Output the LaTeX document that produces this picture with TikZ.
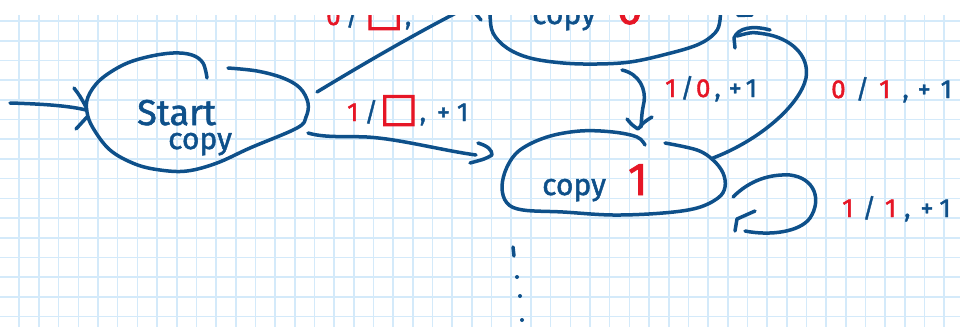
\documentclass[tikz,border=0pt]{standalone}
\usepackage{fontspec}
\setmainfont{Fira Sans}[Numbers=Lining,FakeBold=1.5]
\newfontfamily\symfont{DejaVu Sans}[FakeBold=2.5]
\definecolor{inkblue}{RGB}{14,80,138}
\definecolor{penred}{RGB}{230,22,38}
\definecolor{gridblue}{RGB}{212,234,250}
\newcommand{\rd}[1]{\textcolor{penred}{#1}}
\newcommand{\bx}{{\symfont\fontsize{40}{40}\selectfont □}}
\newcommand{\bigdigit}[1]{\rd{\fontsize{46}{46}\selectfont #1}}
\begin{document}
\begin{tikzpicture}[x=1pt,y=-1pt,
  ink/.style={draw=inkblue,line width=3.5pt,line cap=round,line join=round},
  gridline/.style={draw=gridblue,line width=1.6pt},
  statetext/.style={inkblue,inner sep=0pt,anchor=base west,font=\fontsize{30}{24}\selectfont},
  lbl/.style={inkblue,inner sep=0pt,anchor=base west,font=\fontsize{26}{26}\selectfont}]
\useasboundingbox (0,0) rectangle (960,327);
\fill[white] (0,0) rectangle (960,327);
% squared paper
\foreach \k in {0,...,49} \draw[gridline] ({19.68*\k-0.4},15) -- ({19.68*\k-0.4},327);
\foreach \k in {0,...,15} \draw[gridline] (0,{21+19.7*\k}) -- (960,{21+19.7*\k});
\begin{scope}
\clip (0,15) rectangle (960,327);
% ---- states ----
\draw[ink] plot[smooth,tension=0.6] coordinates {(207,78) (203,63) (192,55) (173,53) (147,57) (123,65) (100,80) (88,97) (87,112) (93,128) (110,150) (135,164) (160,170) (187,171) (217,163) (250,148) (297,128) (306,117) (308,103) (300,88) (283,78) (257,71) (228,68)};
\node[statetext,align=left] (start) at (137,149)
  {{\fontsize{36}{24}\selectfont Start}\\\hspace*{31pt}copy};

\draw[ink] plot[smooth,tension=0.6] coordinates {(500,-20) (490,0) (490,15) (493,33) (507,48) (530,58) (563,63) (597,64) (630,62) (663,55) (697,45) (715,33) (720,20) (719,5) (712,-15)};
\node[statetext] (copy0) at (532,24) {copy\hspace{21pt}\bigdigit{0}};

\draw[ink] plot[smooth,tension=0.6] coordinates {(645,145) (637,137) (613,132) (580,131) (547,137) (520,150) (507,167) (502,187) (507,203) (523,210) (563,212) (613,215) (663,213) (697,208) (718,198) (725,187) (723,173) (713,160) (697,150) (665,143)};
\node[statetext] (copy1) at (542,195) {copy\hspace{22pt}\bigdigit{1}};

% ---- connector end points ----
\coordinate (init) at (10,103);
\coordinate (start-w) at (86,110);
\coordinate (start-ne) at (317,92);
\coordinate (start-se) at (308,133);
\coordinate (copy0-w) at (478,2);
\coordinate (copy0-s) at (622,70);
\coordinate (copy0-e) at (737,36);
\coordinate (copy1-w) at (476,155);
\coordinate (copy1-n) at (641,127);
\coordinate (copy1-ne) at (713,158);
\coordinate (copy1-e) at (733,197);

% ---- transitions ----
\draw[ink] (init) .. controls (45,104) and (70,106) .. (start-w);
\draw[ink] (74,88) .. controls (80,96) .. (86,107) (87,117) -- (76,129);

\draw[ink] (start-ne) .. controls (345,75) and (420,30) .. (copy0-w);
\draw[ink] (476,14) -- (481,20);

\draw[ink] (start-se) .. controls (325,138) and (345,136) .. (367,137) .. controls (400,139) and (440,150) .. (copy1-w);
\draw[ink] (478,143) .. controls (488,146) and (492,150) .. (492,155) .. controls (485,159) .. (470,163);

\draw[ink] (copy0-s) .. controls (640,74) and (646,90) .. (644,102) .. controls (642,112) .. (copy1-n);
\draw[ink] (627,119) .. controls (632,125) .. (638,129) .. controls (644,122) .. (652,117);

\draw[ink] (copy1-ne) .. controls (760,140) and (800,105) .. (806,78) .. controls (810,55) and (790,38) .. (765,34) .. controls (752,32) .. (copy0-e);
\draw[ink] (735,48) -- (734,38) .. controls (738,28) and (752,25) .. (770,30);

\draw[ink] (copy1-e) .. controls (750,180) and (770,174) .. (790,175) .. controls (815,178) and (822,200) .. (810,218) .. controls (800,232) and (770,236) .. (745,231);
\draw[ink] (755,211) -- (737,219) -- (735,231);

\draw[ink] (738,15.5) -- (752,15);

% ---- transition labels ----
\node[lbl] (l-s0) at (326,25) {\rd{0}\hspace{5pt}/\hspace{6pt}\rd{\bx}\hspace{2pt},};
\node[lbl] (l-s1) at (347,121) {\rd{1}\hspace{6pt}/\hspace{2pt}\rd{\bx}\hspace{2pt},\hspace{11pt}+\hspace{7pt}1};
\node[lbl] (l-01) at (665,97) {\rd{1}\hspace{4pt}/\hspace{2pt}\rd{0}\hspace{4pt},\hspace{8pt}+\hspace{4pt}1};
\node[lbl] (l-10) at (831,98) {\rd{0}\hspace{10pt}/\hspace{10pt}\rd{1}\hspace{12pt},\hspace{9pt}+\hspace{10pt}1};
\node[lbl] (l-11) at (842,217) {\rd{1}\hspace{9pt}/\hspace{9pt}\rd{1}\hspace{8pt},\hspace{10pt}+\hspace{6pt}1};

% ---- more states below ----
\draw[ink] (513,247) -- (514,256);
\fill[inkblue] (517,277) circle (2) (520,296) circle (2) (522,320) circle (2);
\end{scope}
\end{tikzpicture}
\end{document}
